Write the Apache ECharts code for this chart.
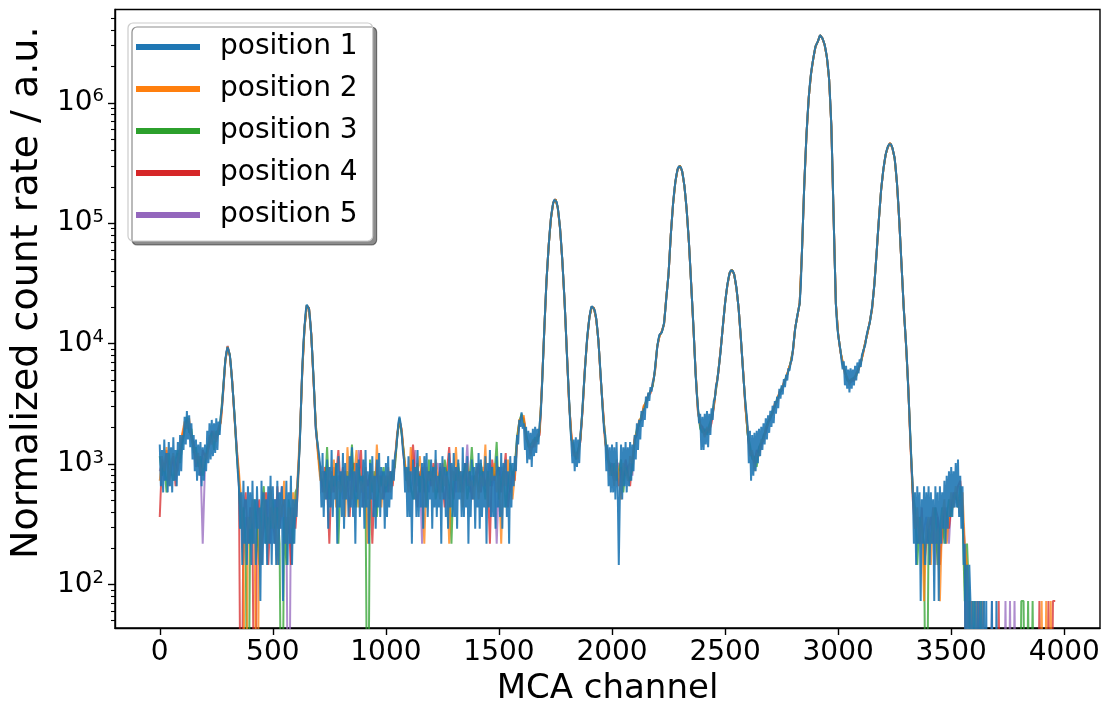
<!DOCTYPE html>
<html>
<head>
<meta charset="utf-8">
<script src="https://cdn.jsdelivr.net/npm/echarts@6/dist/echarts.min.js"></script>
<style>
  html, body { margin: 0; padding: 0; background: #ffffff; }
  #chart { width: 1106px; height: 711px; }
</style>
</head>
<body>
<div id="chart"></div>
<script>
// MCA spectra recorded at five positions.
// Position 1 is stored every 5th channel, positions 2-5 every 10th channel.
const CHANNEL_START = 0;
const CHANNEL_STEPS = [5, 10, 10, 10, 10];
const COUNT_NORM = 72.6;     // counts -> normalized count rate (a.u.)
const EMPTY_LEVEL = 1;       // empty channels are drawn below the visible log range

const SERIES_NAMES = ['position 1', 'position 2', 'position 3', 'position 4', 'position 5'];

const position1 = [
  20, 9, 18, 8, 22, 10, 17, 8, 21, 9, 19, 8, 23, 10, 18, 9, 21, 11, 24, 12,
  24, 18, 34, 20, 38, 22, 35, 19, 30, 15, 24, 12, 22, 10, 20, 11, 21, 9, 19, 10,
  20, 12, 26, 14, 30, 15, 32, 16, 30, 17, 33, 18, 31, 24, 35, 40, 55, 75, 100, 118,
  129, 125, 110, 90, 67, 50, 36, 26, 18, 12, 9, 4, 8, 2, 10, 3, 7, 2, 9, 3,
  8, 2, 10, 3, 7, 2, 9, 4, 6, 1, 10, 2, 8, 3, 7, 2, 9, 3, 11, 2,
  9, 3, 7, 2, 10, 2, 8, 4, 9, 1, 7, 3, 10, 2, 8, 3, 11, 2, 7, 3,
  7, 5, 10, 14, 22, 45, 83, 135, 187, 250, 290, 295, 268, 220, 162, 110, 72, 45, 27, 22,
  19, 16, 13, 6, 17, 5, 12, 7, 15, 4, 13, 6, 18, 5, 11, 7, 14, 3, 16, 6,
  12, 5, 17, 4, 14, 7, 11, 5, 16, 6, 19, 5, 12, 3, 14, 7, 15, 5, 11, 6,
  15, 4, 18, 6, 12, 3, 14, 7, 16, 5, 11, 4, 15, 6, 17, 5, 13, 7, 12, 4,
  14, 5, 16, 6, 12, 7, 15, 10, 16, 18, 23, 30, 34, 30, 25, 18, 15, 8, 13, 5,
  16, 5, 12, 3, 15, 7, 13, 5, 18, 5, 11, 6, 14, 4, 16, 6, 17, 5, 12, 7,
  15, 4, 13, 6, 18, 5, 11, 6, 14, 3, 16, 7, 13, 5, 12, 4, 17, 6, 14, 5,
  17, 5, 13, 4, 15, 7, 12, 5, 19, 5, 14, 6, 16, 3, 12, 5, 15, 7, 13, 4,
  14, 6, 17, 4, 15, 5, 12, 6, 16, 3, 14, 6, 18, 5, 13, 5, 11, 4, 16, 6,
  13, 5, 17, 4, 14, 6, 15, 5, 12, 3, 16, 6, 14, 9, 16, 12, 24, 20, 32, 28,
  37, 27, 30, 18, 28, 14, 26, 15, 25, 13, 27, 16, 28, 17, 27, 20, 30, 36, 58, 100,
  172, 280, 450, 640, 896, 1200, 1520, 1800, 2030, 2160, 2185, 2080, 1862, 1580, 1260, 950, 690, 470, 316, 200,
  118, 75, 48, 30, 21, 14, 22, 12, 23, 13, 22, 14, 24, 30, 42, 60, 82, 115, 153, 190,
  225, 262, 281, 290, 269, 255, 224, 185, 143, 105, 74, 52, 36, 26, 24, 12, 20, 9, 19, 8,
  20, 8, 19, 7, 21, 9, 2, 8, 20, 7, 19, 9, 21, 8, 19, 9, 21, 10, 20, 12,
  24, 15, 30, 18, 32, 22, 38, 28, 40, 32, 50, 40, 54, 46, 60, 55, 66, 70, 85, 105,
  128, 150, 163, 166, 170, 185, 203, 250, 328, 410, 523, 760, 1100, 1500, 1998, 2520, 3030, 3500, 3855, 4080,
  4140, 4000, 3720, 3300, 2830, 2300, 1795, 1330, 965, 660, 430, 290, 192, 120, 75, 52, 41, 30, 36, 18,
  34, 18, 36, 20, 38, 19, 36, 24, 40, 32, 46, 48, 62, 66, 80, 96, 118, 150, 192, 240,
  297, 360, 423, 480, 528, 560, 567, 550, 518, 465, 403, 335, 268, 205, 152, 110, 78, 58, 44, 36,
  28, 14, 26, 10, 24, 11, 25, 12, 26, 14, 27, 16, 28, 18, 30, 20, 33, 22, 35, 25,
  38, 28, 42, 30, 46, 36, 50, 40, 58, 48, 62, 52, 70, 60, 76, 68, 86, 82, 96, 100,
  122, 150, 183, 210, 238, 265, 296, 420, 805, 1500, 2795, 4700, 7510, 11000, 15190, 19800, 24020, 28300, 32080, 36500,
  40510, 42600, 44380, 47300, 50210, 49500, 47480, 45000, 42020, 38000, 33180, 27800, 21720, 14500, 8840, 3900, 1555, 650, 292, 200,
  163, 140, 122, 100, 84, 98, 62, 90, 58, 84, 54, 86, 58, 84, 62, 90, 68, 96, 78, 102,
  88, 110, 118, 126, 135, 158, 175, 190, 205, 240, 276, 340, 422, 560, 778, 1080, 1460, 1950, 2600, 3200,
  3850, 4500, 5100, 5600, 5950, 6250, 6370, 6200, 5800, 5300, 4750, 3900, 2985, 2200, 1478, 980, 640, 420, 271, 195,
  140, 95, 58, 36, 21, 13, 9, 3, 8, 2, 9, 3, 8, 1, 7, 3, 9, 2, 8, 3,
  9, 2, 8, 3, 7, 1, 9, 3, 8, 1, 9, 3, 8, 4, 10, 3, 11, 4, 12, 5,
  13, 5, 12, 6, 14, 6, 15, 5, 11, 4, 9, 2, 3, 0, 2, 0, 2, 1, 0, 1,
  0, 1, 0, 1, 0, 1, 0, 1, 0, 1, 0, 1, 0, 0, 0, 0, 1, 0, 0, 0,
  1, 0, 0, 0, 0, 0, 0, 0, 0, 0, 0, 0, 0, 0, 0, 0, 0, 0, 0, 0,
  0, 0, 0, 0, 0, 0, 0, 0, 0, 0, 0, 0, 0, 0, 0, 0, 0, 0, 0, 0,
  0, 0, 0, 0, 0, 0, 0, 0, 0, 0, 0, 0, 0
];

const position2 = [
  10, 16, 12, 19, 9, 14, 17, 11, 13, 20, 25, 31, 27, 33, 22, 19, 14, 17, 12, 13,
  17, 15, 24, 20, 26, 21, 28, 30, 52, 98, 131, 108, 70, 34, 19, 12, 7, 3, 0, 5,
  4, 7, 3, 0, 6, 2, 8, 5, 3, 9, 4, 6, 2, 7, 5, 10, 3, 6, 4, 8,
  5, 11, 25, 78, 183, 283, 272, 167, 68, 30, 16, 10, 12, 7, 9, 13, 8, 15, 6, 10,
  8, 12, 5, 19, 9, 7, 11, 18, 6, 10, 8, 13, 3, 9, 12, 7, 20, 10, 6, 11,
  9, 13, 8, 10, 15, 25, 31, 27, 16, 12, 8, 19, 10, 7, 12, 16, 9, 3, 13, 10,
  12, 8, 15, 10, 7, 14, 9, 11, 3, 13, 10, 19, 8, 12, 6, 11, 14, 9, 10, 7,
  13, 7, 11, 9, 20, 6, 12, 10, 14, 8, 11, 3, 13, 9, 15, 10, 7, 11, 20, 32,
  33, 35, 22, 21, 16, 22, 19, 24, 25, 62, 168, 445, 903, 1514, 2040, 2176, 1858, 1268, 683, 312,
  122, 44, 25, 16, 17, 15, 23, 39, 86, 148, 230, 276, 274, 220, 147, 70, 40, 20, 17, 11,
  13, 9, 15, 11, 7, 14, 12, 10, 16, 14, 23, 25, 32, 33, 42, 44, 52, 54, 64, 80,
  132, 158, 175, 198, 333, 518, 1110, 1992, 3022, 3865, 4132, 3730, 2820, 1802, 958, 436, 186, 79, 37, 30,
  27, 23, 28, 25, 34, 40, 60, 78, 122, 188, 302, 418, 533, 563, 522, 398, 272, 148, 82, 40,
  26, 16, 18, 12, 17, 16, 22, 21, 28, 29, 35, 36, 44, 45, 55, 57, 66, 70, 84, 94,
  118, 187, 233, 303, 795, 2805, 7490, 15210, 23980, 32120, 40490, 44420, 50190, 47520, 41980, 33220, 21680, 8860, 1545, 297,
  167, 118, 98, 77, 73, 62, 71, 67, 79, 83, 97, 112, 143, 168, 210, 266, 428, 772, 1470, 2590,
  3840, 5110, 5945, 6375, 5795, 4760, 2975, 1483, 632, 277, 136, 62, 19, 9, 4, 6, 3, 5, 1, 4,
  5, 2, 6, 3, 4, 1, 5, 7, 3, 5, 8, 6, 9, 7, 5, 8, 3, 2, 0, 1,
  0, 1, 0, 0, 1, 0, 0, 0, 0, 0, 0, 0, 0, 0, 0, 0, 0, 0, 0, 0,
  0, 0, 0, 0, 0, 0, 0, 0, 0, 0, 1, 0, 1, 0, 1, 0, 0
];

const position3 = [
  16, 11, 14, 8, 17, 12, 10, 15, 18, 14, 20, 26, 34, 25, 27, 17, 19, 13, 16, 11,
  14, 19, 21, 25, 18, 26, 24, 34, 57, 101, 128, 111, 67, 37, 17, 10, 4, 6, 3, 0,
  5, 3, 7, 4, 2, 6, 9, 3, 5, 4, 7, 4, 6, 3, 0, 5, 2, 7, 5, 3,
  8, 9, 23, 81, 186, 287, 269, 164, 71, 29, 18, 11, 10, 8, 19, 7, 11, 9, 14, 3,
  11, 9, 7, 12, 10, 20, 8, 6, 13, 9, 11, 8, 0, 15, 8, 12, 5, 11, 9, 13,
  8, 11, 9, 12, 13, 23, 33, 24, 17, 10, 13, 9, 7, 11, 14, 8, 12, 10, 6, 15,
  10, 13, 7, 9, 12, 8, 15, 11, 9, 3, 12, 10, 14, 8, 11, 13, 7, 10, 19, 9,
  11, 8, 14, 10, 7, 12, 9, 13, 11, 21, 7, 10, 12, 6, 9, 14, 11, 13, 23, 31,
  36, 31, 25, 19, 20, 21, 23, 21, 27, 59, 171, 448, 898, 1518, 2035, 2182, 1861, 1263, 688, 315,
  119, 47, 22, 20, 15, 18, 22, 41, 83, 151, 227, 279, 271, 223, 144, 73, 37, 23, 15, 14,
  11, 14, 10, 12, 15, 8, 13, 11, 10, 13, 21, 27, 29, 35, 39, 46, 50, 56, 61, 83,
  131, 161, 171, 201, 331, 521, 1104, 1996, 3025, 3862, 4138, 3725, 2826, 1797, 963, 431, 190, 76, 40, 27,
  25, 27, 24, 29, 33, 43, 57, 81, 119, 191, 299, 421, 531, 566, 519, 401, 269, 151, 79, 43,
  24, 20, 15, 16, 13, 19, 21, 23, 27, 31, 33, 38, 41, 48, 52, 59, 63, 73, 81, 97,
  121, 184, 236, 299, 802, 2798, 7505, 15195, 24010, 32090, 40505, 44390, 50200, 47490, 42010, 33190, 21710, 8845, 1552, 295,
  164, 121, 94, 82, 68, 67, 70, 72, 74, 86, 94, 117, 139, 171, 207, 270, 424, 776, 1463, 2605,
  3855, 5095, 5955, 6365, 5805, 4745, 2982, 1481, 638, 273, 139, 59, 22, 8, 6, 2, 5, 4, 3, 0,
  4, 3, 5, 6, 2, 4, 6, 3, 5, 7, 5, 7, 8, 6, 9, 5, 1, 3, 1, 0,
  1, 0, 0, 1, 0, 0, 0, 0, 0, 0, 0, 0, 0, 0, 0, 0, 0, 0, 0, 0,
  0, 1, 1, 0, 1, 0, 1, 0, 0, 0, 0, 0, 0, 0, 0, 0, 0
];

const position4 = [
  5, 15, 12, 18, 10, 13, 16, 9, 17, 15, 24, 29, 32, 26, 23, 21, 13, 16, 11, 18,
  16, 17, 20, 26, 23, 22, 27, 31, 54, 99, 129, 109, 69, 35, 18, 11, 0, 5, 8, 3,
  6, 4, 0, 5, 7, 3, 4, 8, 2, 6, 5, 3, 9, 4, 6, 7, 3, 5, 2, 6,
  4, 8, 24, 79, 184, 286, 271, 166, 69, 28, 17, 12, 8, 13, 10, 3, 12, 8, 11, 18,
  9, 13, 7, 10, 5, 12, 14, 8, 10, 18, 6, 11, 9, 12, 3, 10, 13, 8, 11, 7,
  10, 8, 12, 9, 14, 24, 32, 26, 15, 11, 9, 12, 20, 10, 6, 11, 13, 8, 10, 12,
  9, 14, 11, 8, 13, 10, 6, 12, 19, 9, 7, 13, 10, 11, 8, 14, 9, 12, 7, 11,
  10, 14, 8, 12, 9, 11, 3, 15, 10, 12, 13, 8, 11, 17, 6, 9, 12, 10, 21, 30,
  34, 33, 23, 20, 19, 19, 21, 23, 24, 61, 169, 446, 901, 1516, 2038, 2178, 1859, 1266, 684, 313,
  121, 45, 24, 17, 16, 18, 21, 40, 85, 149, 229, 277, 273, 221, 146, 71, 39, 21, 18, 12,
  14, 11, 12, 9, 13, 10, 15, 12, 9, 15, 22, 24, 31, 32, 41, 45, 51, 53, 63, 81,
  129, 159, 174, 199, 332, 519, 1108, 1994, 3028, 3858, 4134, 3728, 2822, 1800, 960, 435, 188, 78, 38, 29,
  28, 24, 27, 26, 30, 41, 59, 79, 121, 189, 301, 419, 529, 564, 521, 399, 271, 149, 81, 41,
  25, 17, 16, 14, 18, 17, 19, 24, 25, 30, 34, 36, 43, 46, 54, 56, 65, 71, 83, 95,
  119, 186, 234, 301, 798, 2802, 7495, 15205, 23990, 32110, 40495, 44410, 50195, 47510, 41990, 33210, 21690, 8855, 1548, 296,
  166, 119, 96, 79, 71, 65, 69, 68, 77, 84, 96, 114, 141, 169, 209, 268, 426, 774, 1468, 2595,
  3845, 5105, 5948, 6372, 5798, 4755, 2978, 1482, 634, 276, 137, 61, 20, 7, 4, 5, 3, 6, 2, 3,
  4, 5, 3, 6, 5, 2, 4, 6, 5, 4, 6, 8, 7, 9, 10, 6, 2, 0, 1, 0,
  0, 0, 1, 0, 0, 0, 0, 0, 0, 0, 0, 1, 0, 0, 0, 0, 0, 0, 0, 0,
  0, 0, 0, 0, 0, 0, 0, 0, 0, 1, 0, 0, 0, 1, 0, 1, 1
];

const position5 = [
  12, 14, 10, 16, 13, 11, 15, 14, 12, 18, 21, 27, 29, 31, 25, 18, 15, 14, 15, 3,
  13, 18, 23, 21, 25, 23, 25, 33, 56, 102, 132, 110, 67, 36, 20, 9, 6, 2, 5, 4,
  3, 6, 4, 7, 5, 2, 6, 4, 8, 3, 5, 7, 4, 6, 9, 3, 5, 0, 6, 4,
  6, 10, 23, 82, 188, 284, 270, 163, 70, 27, 18, 11, 9, 12, 7, 10, 8, 13, 9, 11,
  10, 7, 12, 9, 11, 13, 6, 10, 18, 8, 9, 12, 7, 11, 10, 6, 14, 9, 12, 8,
  11, 9, 10, 12, 15, 23, 33, 25, 16, 10, 12, 8, 11, 18, 9, 12, 3, 14, 10, 8,
  11, 9, 12, 14, 8, 10, 13, 9, 7, 12, 11, 8, 13, 9, 12, 10, 20, 8, 11, 10,
  12, 9, 10, 13, 8, 11, 14, 9, 12, 3, 10, 13, 9, 12, 11, 8, 10, 13, 22, 31,
  35, 32, 24, 21, 17, 20, 22, 22, 26, 60, 170, 449, 899, 1519, 2034, 2183, 1857, 1262, 687, 317,
  120, 47, 23, 18, 15, 17, 22, 39, 84, 150, 226, 280, 270, 222, 144, 72, 38, 22, 15, 13,
  12, 10, 13, 14, 9, 12, 11, 13, 14, 11, 22, 26, 30, 34, 40, 44, 51, 55, 62, 84,
  130, 162, 173, 202, 329, 522, 1102, 1997, 3026, 3863, 4137, 3724, 2827, 1796, 964, 434, 191, 76, 39, 28,
  26, 26, 25, 27, 32, 42, 58, 80, 120, 190, 298, 422, 532, 565, 520, 402, 270, 150, 80, 42,
  25, 18, 17, 15, 15, 19, 20, 22, 26, 31, 32, 38, 42, 47, 53, 58, 64, 72, 82, 96,
  120, 185, 235, 300, 800, 2800, 7500, 15200, 24000, 32100, 40500, 44400, 50200, 47500, 42000, 33200, 21700, 8850, 1550, 294,
  165, 120, 93, 81, 69, 68, 66, 71, 75, 86, 95, 116, 140, 170, 208, 269, 425, 775, 1465, 2600,
  3850, 5100, 5950, 6370, 5800, 4750, 2980, 1480, 636, 274, 138, 60, 21, 8, 5, 3, 4, 3, 4, 5,
  3, 4, 6, 2, 5, 4, 3, 5, 6, 3, 7, 6, 8, 6, 7, 5, 3, 1, 0, 1,
  0, 0, 0, 0, 0, 0, 0, 0, 1, 0, 0, 0, 0, 0, 1, 0, 1, 0, 1, 0,
  0, 0, 0, 0, 0, 0, 0, 0, 0, 0, 0, 0, 0, 0, 0, 0, 0
];

const X_TICKS = [0, 500, 1000, 1500, 2000, 2500, 3000, 3500, 4000];
const Y_DECADES = [100, 1000, 10000, 100000, 1000000];

// axis ranges
const X_MIN = -198, X_MAX = 4158;
const Y_MIN = 43.4, Y_MAX = 5.96e6;

const COLORS = ['#1f77b4', '#ff7f0e', '#2ca02c', '#d62728', '#9467bd'];
const OPACITY = [0.9, 0.75, 0.75, 0.75, 0.75];
const FONT = 'DejaVu Sans';

// minor log ticks (2..9 x 10^n) inside the visible range
const Y_MINOR = [];
for (let d = 10; d <= 1e6; d *= 10) {
  for (let k = 2; k <= 9; k++) {
    const v = k * d;
    if (v > Y_MIN && v < Y_MAX) Y_MINOR.push(v);
  }
}

const COUNTS = [position1, position2, position3, position4, position5];

function toPoints(counts, step) {
  return counts.map((c, i) => [
    CHANNEL_START + i * step,
    c > 0 ? c * COUNT_NORM : EMPTY_LEVEL
  ]);
}

const series = SERIES_NAMES.map((name, k) => ({
  name: name,
  type: 'line',
  data: toPoints(COUNTS[k], CHANNEL_STEPS[k]),
  showSymbol: false,
  symbol: 'none',
  clip: true,
  silent: true,
  z: 10 - k,
  lineStyle: { color: COLORS[k], width: 2, opacity: OPACITY[k] },
  itemStyle: { color: COLORS[k] }
}));

const axisLineStyle = { color: '#000000', width: 1.4 };

const chart = echarts.init(document.getElementById('chart'), null, { renderer: 'canvas' });
chart.setOption({
  animation: false,
  backgroundColor: '#ffffff',
  textStyle: { fontFamily: FONT },
  grid: {
    left: 114, right: 6, top: 9.5, bottom: 78.5,
    show: true, borderColor: '#000000', borderWidth: 1.4, backgroundColor: 'transparent'
  },
  legend: {
    orient: 'vertical',
    left: 128, top: 23,
    data: SERIES_NAMES,
    icon: 'rect',
    itemWidth: 64, itemHeight: 6, itemGap: 14,
    padding: [10, 15, 12, 8],
    backgroundColor: '#ffffff',
    borderColor: '#cccccc', borderWidth: 1.2, borderRadius: 5,
    shadowColor: 'rgba(0,0,0,0.45)', shadowBlur: 0, shadowOffsetX: 4, shadowOffsetY: 4,
    selectedMode: false,
    itemStyle: { opacity: 1 },
    textStyle: { fontFamily: FONT, fontSize: 28, color: '#000000', lineHeight: 28, padding: [0, 0, 0, 15] }
  },
  xAxis: {
    type: 'value',
    min: X_MIN, max: X_MAX,
    name: 'MCA channel',
    nameLocation: 'middle',
    nameGap: 44,
    nameTextStyle: { fontFamily: FONT, fontSize: 34, color: '#000000' },
    axisLine: { show: true, onZero: false, lineStyle: axisLineStyle },
    axisTick: { show: true, inside: false, length: 7, lineStyle: axisLineStyle, customValues: X_TICKS },
    axisLabel: {
      customValues: X_TICKS, fontFamily: FONT, fontSize: 28, color: '#000000', margin: 11,
      formatter: v => String(v)
    },
    splitLine: { show: false }
  },
  yAxis: [
    {
      type: 'log', logBase: 10,
      min: Y_MIN, max: Y_MAX,
      name: 'Normalized count rate / a.u.',
      nameLocation: 'middle',
      nameGap: 64,
      nameTextStyle: { fontFamily: FONT, fontSize: 38, color: '#000000', padding: [0, 0, 0, 52] },
      axisLine: { show: true, onZero: false, lineStyle: axisLineStyle },
      axisTick: { show: true, inside: false, length: 7, lineStyle: axisLineStyle, customValues: Y_DECADES },
      axisLabel: {
        customValues: Y_DECADES,
        margin: 11,
        formatter: v => '{b|10}{s|' + Math.round(Math.log10(v)) + '}',
        rich: {
          b: { fontFamily: FONT, fontSize: 28, color: '#000000', lineHeight: 30 },
          s: { fontFamily: FONT, fontSize: 18, color: '#000000', verticalAlign: 'top', lineHeight: 18 }
        }
      },
      splitLine: { show: false }
    },
    {
      type: 'log', logBase: 10,
      min: Y_MIN, max: Y_MAX,
      position: 'left',
      axisLine: { show: false, onZero: false },
      axisTick: { show: true, inside: false, length: 4, lineStyle: { color: '#000000', width: 1.1 }, customValues: Y_MINOR },
      axisLabel: { show: false },
      splitLine: { show: false }
    }
  ],
  series: series
});
</script>
</body>
</html>
